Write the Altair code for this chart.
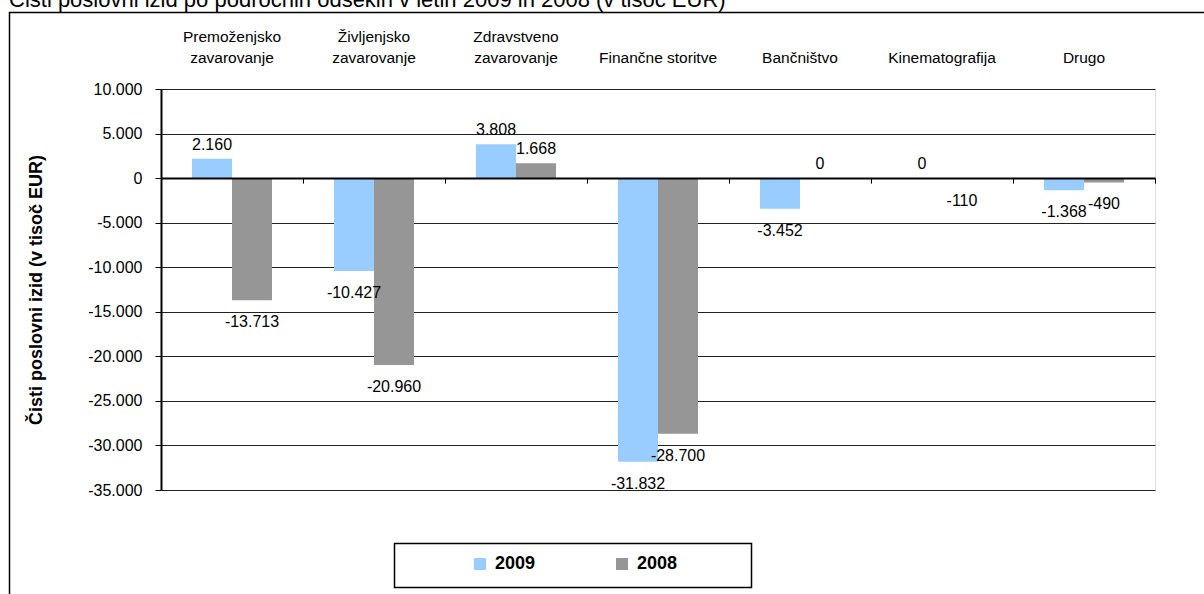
import altair as alt
import pandas as pd

# Segment results, thousands of EUR
categories = [
    "Premoženjsko\nzavarovanje",
    "Življenjsko\nzavarovanje",
    "Zdravstveno\nzavarovanje",
    "Finančne storitve",
    "Bančništvo",
    "Kinematografija",
    "Drugo",
]
years = ["2009", "2008"]
values_2009 = [2160, -10427, 3808, -31832, -3452, 0, -1368]
values_2008 = [-13713, -20960, 1668, -28700, 0, -110, -490]
y_ticks = [10000, 5000, 0, -5000, -10000, -15000, -20000, -25000, -30000, -35000]
colors = ["#99CCFF", "#969696"]

title_text = "Čisti poslovni izid po področnih odsekih v letih 2009 in 2008 (v tisoč EUR)"
y_title = "Čisti poslovni izid  (v tisoč EUR)"

rows = []
for cat, v09, v08 in zip(categories, values_2009, values_2008):
    rows.append({"podrocje": cat, "leto": "2009", "izid": v09})
    rows.append({"podrocje": cat, "leto": "2008", "izid": v08})
df = pd.DataFrame(rows)

W, H = 994, 401
FONT = "Liberation Sans"

# Slovenian number style: dot as thousands separator, plain hyphen for minus
fmt_value = "(datum.izid < 0 ? '-' : '') + replace(format(abs(datum.izid), ','), ',', '.')"
fmt_tick = "(datum.value < 0 ? '-' : '') + replace(format(abs(datum.value), ','), ',', '.')"
# two-line category labels; single-line names sit on the lower line
fmt_cat = "indexof(datum.label, '\\n') < 0 ? ['', datum.label] : split(datum.label, '\\n')"

x_scale = alt.Scale(domain=categories, paddingInner=0, paddingOuter=0)
y_scale = alt.Scale(domain=[-35000, 10000], nice=False, zero=False)
off_scale = alt.Scale(domain=years, paddingInner=0, paddingOuter=0.775)

x_top = alt.X(
    "podrocje:N",
    sort=categories,
    scale=x_scale,
    axis=alt.Axis(
        orient="top",
        title=None,
        domain=False,
        ticks=False,
        grid=False,
        labelAngle=0,
        labelExpr=fmt_cat,
        labelFontSize=15.5,
        labelLineHeight=21,
        labelBaseline="alphabetic",
        labelPadding=48,
        labelColor="black",
        labelFont=FONT,
    ),
)

y_enc = alt.Y(
    "izid:Q",
    scale=y_scale,
    axis=alt.Axis(
        values=y_ticks,
        labelExpr=fmt_tick,
        title=y_title,
        titleFont=FONT,
        titleFontSize=18,
        titleFontWeight="bold",
        titleColor="black",
        titleAngle=270,
        titleAlign="center",
        titleBaseline="middle",
        titleX=-125,
        titleY=H / 2,
        labelFont=FONT,
        labelFontSize=16,
        labelColor="black",
        labelPadding=13,
        domainColor="black",
        domainWidth=2,
        tickColor="black",
        tickWidth=1,
        tickSize=6,
        grid=True,
        gridColor="#222222",
        gridWidth=1,
    ),
)

bars = alt.Chart(df).mark_bar().encode(
    x=x_top,
    xOffset=alt.XOffset("leto:N", sort=years, scale=off_scale),
    y=y_enc,
    color=alt.Color(
        "leto:N",
        sort=years,
        scale=alt.Scale(domain=years, range=colors),
        legend=alt.Legend(
            orient="none",
            legendX=310,
            legendY=466,
            direction="horizontal",
            title=None,
            symbolType="square",
            symbolSize=144,
            symbolStrokeWidth=0,
            symbolOpacity=1,
            labelFont=FONT,
            labelFontSize=18,
            labelFontWeight="bold",
            labelColor="black",
            labelOffset=6,
            columnPadding=77,
            padding=0,
        ),
    ),
)

# zero line with band-edge ticks
x_zero = alt.X(
    "podrocje:N",
    sort=categories,
    scale=x_scale,
    axis=alt.Axis(
        orient="bottom",
        offset=-H * 35000 / 45000,
        title=None,
        labels=False,
        grid=False,
        domainColor="black",
        domainWidth=2,
        ticks=True,
        tickBand="extent",
        tickColor="black",
        tickWidth=1,
        tickSize=5,
        zindex=1,
    ),
)

label_pos = alt.Chart(df).transform_filter("datum.izid >= 0").transform_calculate(
    txt=fmt_value
).mark_text(baseline="bottom", dy=-6, fontSize=16, font=FONT, color="black").encode(
    x=alt.X("podrocje:N", sort=categories, scale=x_scale, axis=None),
    xOffset=alt.XOffset("leto:N", sort=years, scale=off_scale),
    y=y_enc,
    text="txt:N",
)

label_neg = alt.Chart(df).transform_filter("datum.izid < 0").transform_calculate(
    txt=fmt_value
).mark_text(baseline="top", dy=14, fontSize=16, font=FONT, color="black").encode(
    x=x_zero,
    xOffset=alt.XOffset("leto:N", sort=years, scale=off_scale),
    y=y_enc,
    text="txt:N",
)

one = alt.Data(values=[{}])

frame = alt.Chart(one).mark_rect(fillOpacity=0, stroke="black", strokeWidth=1.5).encode(
    x=alt.value(-151.5), x2=alt.value(1100), y=alt.value(-76.5), y2=alt.value(600)
)

legend_box = alt.Chart(one).mark_rect(fillOpacity=0, stroke="black", strokeWidth=1.5).encode(
    x=alt.value(233.5), x2=alt.value(590.5), y=alt.value(454.5), y2=alt.value(498.5)
)

heading = alt.Chart(one).mark_text(
    align="left", baseline="alphabetic", fontSize=22, font=FONT, color="black"
).encode(x=alt.value(-152), y=alt.value(-82.5), text=alt.value(title_text))

chart = (
    alt.layer(frame, heading, legend_box, bars, label_pos, label_neg)
    .resolve_axis(x="independent")
    .properties(
        width=W,
        height=H,
        autosize=alt.AutoSizeParams(type="none"),
        padding={"left": 161, "top": 89, "right": 49, "bottom": 104},
        background="white",
    )
    .configure_view(strokeOpacity=0, strokeWidth=0)
    .configure(font=FONT)
)

chart.save("out.html", embed_options={"renderer": "svg", "actions": False})
